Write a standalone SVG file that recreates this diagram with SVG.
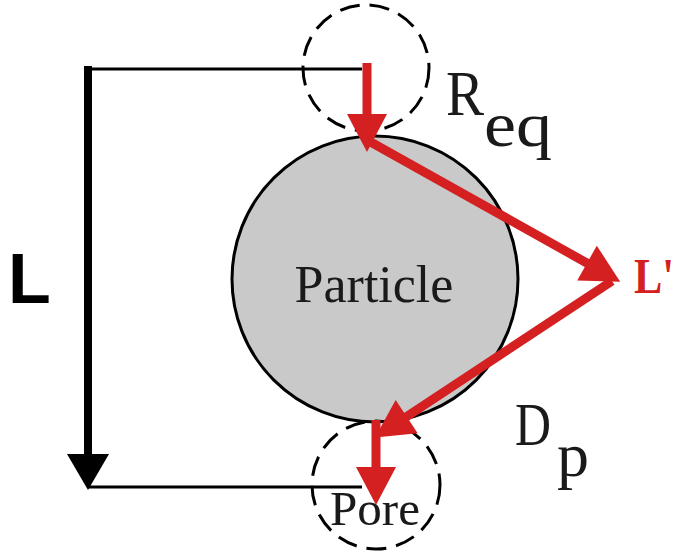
<svg xmlns="http://www.w3.org/2000/svg" width="683" height="557" viewBox="0 0 683 557">
<style>
.blk{stroke:#000;fill:none;stroke-width:3}
.dash{stroke:#000;fill:none;stroke-width:3;stroke-dasharray:20 10}
.red{stroke:#d42020;fill:none;stroke-width:9}
.serif{font-family:"Liberation Serif","Times New Roman",serif;fill:#1a1a1a}
</style>
<defs>
<marker id="rh" markerUnits="userSpaceOnUse" markerWidth="40" markerHeight="42" refX="8" refY="20" orient="auto" overflow="visible">
<path d="M0,0 L38,20 L0,40 z" fill="#d42020"/>
</marker>
<marker id="bh" markerUnits="userSpaceOnUse" markerWidth="40" markerHeight="44" refX="8" refY="21" orient="auto" overflow="visible">
<path d="M0,0 L36,21 L0,42 z" fill="#000"/>
</marker>
</defs>
<rect width="683" height="557" fill="#fff"/>
<g id="particle">
<circle cx="375" cy="279" r="143" fill="#c9c9c9" stroke="#000" stroke-width="3"/>
<text class="serif" x="374" y="302" font-size="52" text-anchor="middle">Particle</text>
</g>
<g id="req-circle">
<circle class="dash" cx="366" cy="68" r="63"/>
</g>
<g id="pore">
<circle class="dash" cx="376" cy="485" r="64"/>
<text class="serif" x="330" y="525" font-size="48" textLength="90" lengthAdjust="spacingAndGlyphs">Pore</text>
</g>
<g id="connectors">
<line class="blk" x1="88" y1="69" x2="362" y2="69"/>
<line class="blk" x1="88" y1="487" x2="362" y2="487"/>
<line x1="88" y1="66" x2="88" y2="462" stroke="#000" stroke-width="8" marker-end="url(#bh)"/>
<line class="red" x1="367" y1="63" x2="367" y2="122" marker-end="url(#rh)"/>
<line class="red" x1="367" y1="140" x2="594" y2="267" marker-end="url(#rh)"/>
<line class="red" x1="612" y1="281" x2="400" y2="421" marker-end="url(#rh)"/>
<line class="red" x1="376" y1="420" x2="376" y2="475" marker-end="url(#rh)"/>
</g>
<g id="labels">
<text x="8" y="303" font-family="Liberation Sans, Arial, sans-serif" font-weight="bold" font-size="70" fill="#000">L</text>
<text class="serif" x="446" y="115" font-size="64" textLength="38" lengthAdjust="spacingAndGlyphs">R</text>
<text class="serif" x="484" y="146" font-size="64" textLength="68" lengthAdjust="spacingAndGlyphs">eq</text>
<text class="serif" x="515" y="445" font-size="62" textLength="36" lengthAdjust="spacingAndGlyphs">D</text>
<text class="serif" x="557" y="476" font-size="64">p</text>
<text x="634" y="293" font-family="Liberation Serif, Times New Roman, serif" font-weight="bold" font-size="50" fill="#d42020" textLength="40" lengthAdjust="spacingAndGlyphs">L'</text>
</g>
</svg>
